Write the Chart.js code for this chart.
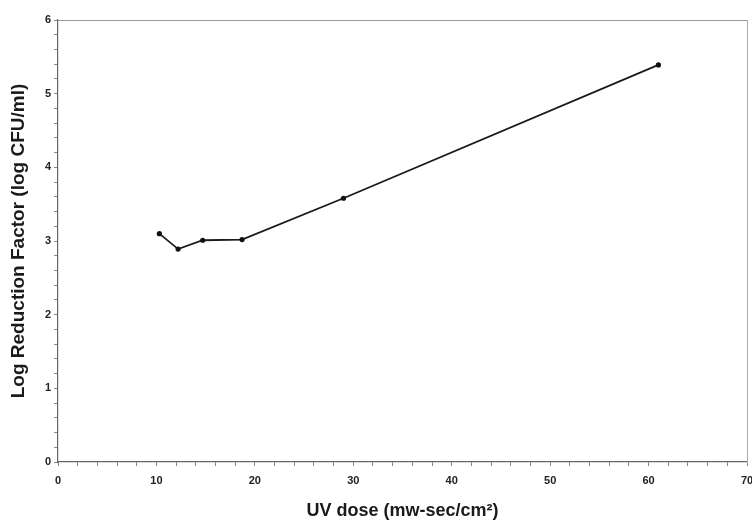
<!DOCTYPE html>
<html>
<head>
<meta charset="utf-8">
<script src="https://cdn.jsdelivr.net/npm/chart.js@4"></script>
<style>
  html, body { margin: 0; padding: 0; background: #fff; }
  canvas { display: block; }
</style>
</head>
<body>
<canvas id="c" width="752" height="522"></canvas>
<script>
const uvDose = [10.3, 12.2, 14.7, 18.7, 29.0, 61.0];
const logReduction = [3.10, 2.89, 3.01, 3.02, 3.58, 5.39];
const xTitle = 'UV dose (mw-sec/cm²)';
const yTitle = 'Log Reduction Factor (log CFU/ml)';

const points = uvDose.map((x, i) => ({ x: x, y: logReduction[i] }));
const tickFont = { family: 'Liberation Sans, Arial, sans-serif', size: 11, weight: 'bold' };
const xTitleFont = { family: 'Liberation Sans, Arial, sans-serif', size: 18, weight: 'bold' };
const yTitleFont = { family: 'Liberation Sans, Arial, sans-serif', size: 19, weight: 'bold' };

new Chart(document.getElementById('c'), {
  type: 'scatter',
  data: {
    datasets: [{
      data: points,
      showLine: true,
      borderColor: '#1a1a1a',
      borderWidth: 1.8,
      backgroundColor: '#111',
      pointRadius: 2.6,
      pointBorderWidth: 0,
      pointHoverRadius: 2.6
    }]
  },
  options: {
    responsive: false,
    animation: false,
    events: [],
    layout: { padding: { top: 20, right: 5, left: 0, bottom: 0 } },
    plugins: { legend: { display: false }, tooltip: { enabled: false } },
    scales: {
      x: {
        type: 'linear', position: 'bottom', min: 0, max: 70,
        afterFit: s => { s.height = 60; s.paddingLeft = 0; s.paddingRight = 0; },
        ticks: {
          stepSize: 2, autoSkip: false, maxRotation: 0, padding: 8,
          color: '#222', font: tickFont,
          callback: v => (Math.abs(v % 10) < 1e-6 ? String(v) : '')
        },
        grid: { drawOnChartArea: false, drawTicks: true, tickLength: 4, color: '#888' },
        border: { color: '#666', width: 1.2 },
        title: { display: true, text: xTitle, color: '#1a1a1a', font: xTitleFont, padding: { top: 0, bottom: 0 } }
      },
      y: {
        type: 'linear', position: 'left', min: 0, max: 6,
        afterFit: s => { s.width = 58; },
        ticks: {
          stepSize: 0.2, autoSkip: false, padding: 3,
          color: '#222', font: tickFont,
          callback: v => (Math.abs(v - Math.round(v)) < 1e-6 ? String(Math.round(v)) : '')
        },
        grid: { drawOnChartArea: false, drawTicks: true, tickLength: 4, color: '#888' },
        border: { color: '#666', width: 1.2 },
        title: { display: true, text: yTitle, color: '#1a1a1a', font: yTitleFont, padding: { top: 7, bottom: 0 } }
      },
      xTop: {
        type: 'linear', position: 'top', min: 0, max: 70,
        afterFit: s => { s.height = 0; },
        ticks: { display: false },
        grid: { display: false, drawTicks: false },
        border: { color: '#999', width: 1 }
      },
      yRight: {
        type: 'linear', position: 'right', min: 0, max: 6,
        afterFit: s => { s.width = 0; },
        ticks: { display: false },
        grid: { display: false, drawTicks: false },
        border: { color: '#aaa', width: 1 }
      }
    }
  }
});
</script>
</body>
</html>
